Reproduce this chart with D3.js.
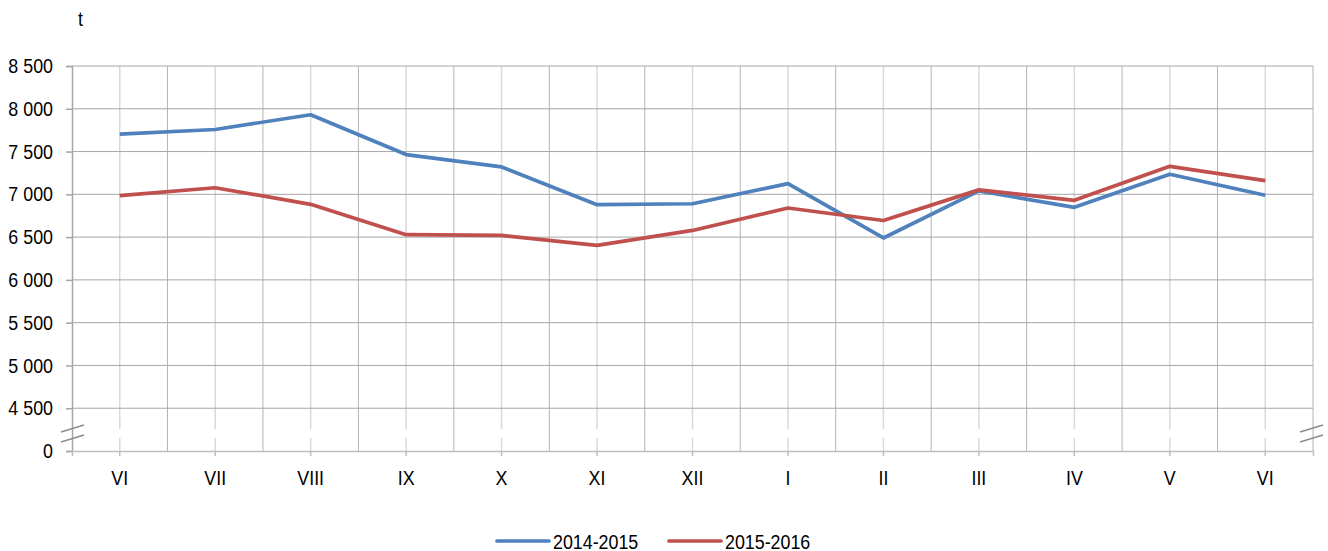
<!DOCTYPE html>
<html>
<head>
<meta charset="utf-8">
<script src="https://cdn.jsdelivr.net/npm/d3@7"></script>
<style>
body { margin: 0; background: #fff; }
svg text { font-family: "Liberation Sans", Arial, sans-serif; fill: #000; font-size: 20.5px; }
</style>
</head>
<body>
<div id="chart"></div>
<script>
var months = ["VI","VII","VIII","IX","X","XI","XII","I","II","III","IV","V","VI"];
var series2014 = [7703, 7758, 7930, 7465, 7320, 6879, 6890, 7125, 6490, 7040, 6848, 7234, 6990];
var series2015 = [6984, 7077, 6883, 6528, 6520, 6403, 6578, 6840, 6694, 7052, 6930, 7327, 7160];
var seriesNames = ["2014-2015", "2015-2016"];
var seriesColors = ["#4f81bd", "#c0504d"];
// 4000 stands for the broken-off 0 at the bottom
var yTicks = [4000, 4500, 5000, 5500, 6000, 6500, 7000, 7500, 8000, 8500];

var W = 1328, H = 551;
var margin = {top: 66, right: 15, bottom: 100, left: 72};
var squeeze = 0.87; // narrow font look

var svg = d3.select("#chart").append("svg")
  .attr("width", W).attr("height", H);

// squeeze text horizontally with textLength
function narrow(sel) {
  sel.each(function() {
    var len = this.getComputedTextLength();
    d3.select(this)
      .attr("textLength", len * squeeze)
      .attr("lengthAdjust", "spacingAndGlyphs");
  });
}

var x = d3.scaleBand()
  .domain(d3.range(months.length))
  .range([margin.left, W - margin.right]);
var bw = x.bandwidth();
var cx = function(i) { return x(i) + bw / 2; };

var y = d3.scaleLinear()
  .domain([4000, 8500])
  .range([H - margin.bottom, margin.top]);

var y0 = y(4000), yTop = y(8500);
var breakTop = y0 - 22, breakBot = y0 - 13;

// vertical gridlines at band edges
var edges = d3.range(months.length + 1).map(function(i) { return margin.left + i * bw; });
svg.append("g").selectAll("line")
  .data(edges.slice(1))
  .enter().append("line")
  .attr("x1", function(d) { return d; }).attr("x2", function(d) { return d; })
  .attr("y1", yTop).attr("y2", y0)
  .attr("stroke", "#b3b3b3").attr("stroke-width", 1);

// vertical gridlines at categories, broken at the axis break
var cg = svg.append("g");
d3.range(months.length).forEach(function(i) {
  cg.append("line")
    .attr("x1", cx(i)).attr("x2", cx(i))
    .attr("y1", yTop).attr("y2", breakTop)
    .attr("stroke", "#d9d9d9").attr("stroke-width", 1.5);
  cg.append("line")
    .attr("x1", cx(i)).attr("x2", cx(i))
    .attr("y1", breakBot).attr("y2", y0)
    .attr("stroke", "#d9d9d9").attr("stroke-width", 1.5);
});

// horizontal gridlines
svg.append("g").selectAll("line")
  .data(yTicks.slice(1))
  .enter().append("line")
  .attr("x1", margin.left).attr("x2", W - margin.right)
  .attr("y1", function(d) { return y(d); }).attr("y2", function(d) { return y(d); })
  .attr("stroke", "#a6a6a6").attr("stroke-width", 1);

// y axis
var yAxis = d3.axisLeft(y)
  .tickValues(yTicks)
  .tickSize(6)
  .tickPadding(13)
  .tickFormat(function(d) { return d === 4000 ? "0" : d3.format(",")(d).replace(",", " "); });
var gy = svg.append("g")
  .attr("transform", "translate(" + margin.left + ",0)")
  .call(yAxis);
gy.attr("font-family", null).attr("font-size", null);
gy.select(".domain").attr("stroke", "#a6a6a6").attr("stroke-width", 1.5);
gy.selectAll(".tick line").attr("stroke", "#a6a6a6").attr("stroke-width", 1.5);
gy.selectAll(".tick text").call(narrow);

// x axis
var xAxis = d3.axisBottom(x)
  .tickSize(5)
  .tickPadding(14)
  .tickFormat(function(i) { return months[i]; });
var gx = svg.append("g")
  .attr("transform", "translate(0," + y0 + ")")
  .call(xAxis);
gx.attr("font-family", null).attr("font-size", null);
gx.select(".domain").attr("stroke", "#bfbfbf").attr("stroke-width", 1.5);
gx.selectAll(".tick line").attr("stroke", "#bfbfbf").attr("stroke-width", 1.5);
gx.selectAll(".tick text").call(narrow);

// axis break marks
function breakMarks(x1, x2) {
  [[432, 425], [442, 435]].forEach(function(p) {
    svg.append("line")
      .attr("x1", x1).attr("y1", p[0]).attr("x2", x2).attr("y2", p[1])
      .attr("stroke", "#8c8c8c").attr("stroke-width", 1.5);
  });
}
breakMarks(61, 84);
breakMarks(1300, 1323);

// unit label
svg.append("text").attr("x", 78).attr("y", 26).text("t").call(narrow);

// lines
var line = d3.line()
  .x(function(d, i) { return cx(i); })
  .y(function(d) { return y(d); });

[series2014, series2015].forEach(function(s, k) {
  svg.append("path")
    .datum(s)
    .attr("d", line)
    .attr("fill", "none")
    .attr("stroke", seriesColors[k])
    .attr("stroke-width", 3.7)
    .attr("stroke-linejoin", "round");
});

// legend
var legendX = [497, 669];
seriesNames.forEach(function(name, k) {
  var g = svg.append("g").attr("transform", "translate(" + legendX[k] + ",541)");
  g.append("line").attr("x1", 0).attr("x2", 52).attr("y1", 0).attr("y2", 0)
    .attr("stroke", seriesColors[k]).attr("stroke-width", 3.7).attr("stroke-linecap", "round");
  g.append("text").attr("x", 56).attr("y", 7.5).text(name).call(narrow);
});
</script>
</body>
</html>
